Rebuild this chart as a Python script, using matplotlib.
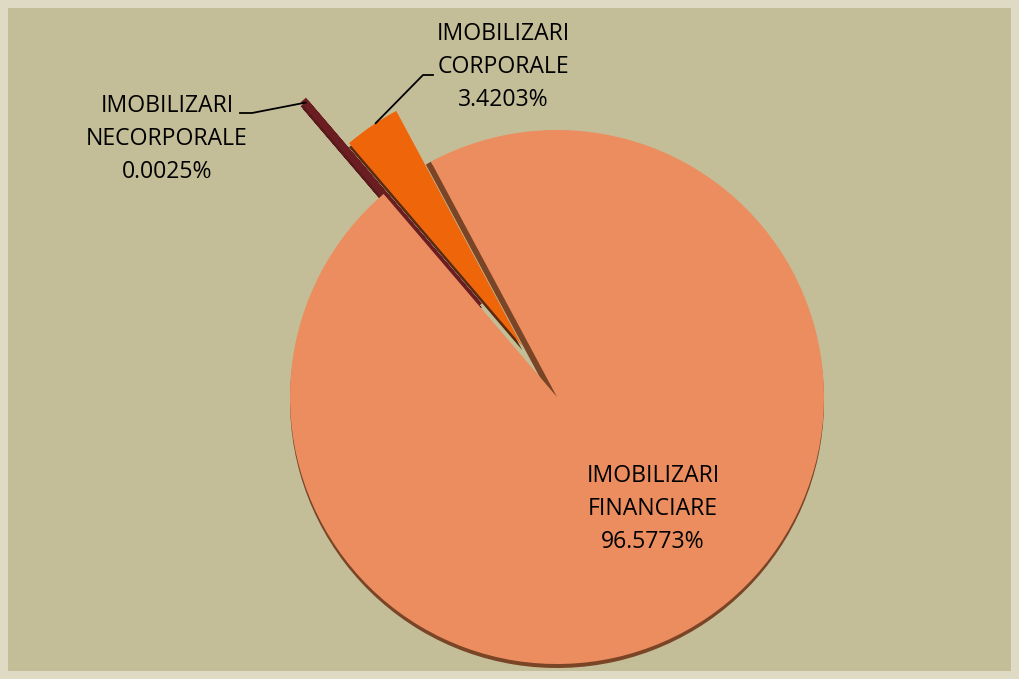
import numpy as np
import matplotlib
matplotlib.use('Agg')
import matplotlib.pyplot as plt
from matplotlib.patches import Polygon

plt.rcParams['font.family'] = ['Open Sans', 'DejaVu Sans']

labels = ['IMOBILIZARI\nNECORPORALE', 'IMOBILIZARI\nCORPORALE', 'IMOBILIZARI\nFINANCIARE']
shares = [0.0025, 3.4203, 96.5773]
colors = ['#6A1E22', '#EE650A', '#EB8D5F']
side_colors = ['#5A1A1C', '#5B2A0E', '#7A4426']
explode = [0.45, 0.23, 0.0]

W, H = 1019, 679
S = 267.0          # pie radius in pixels
CX, CY = 557, 397  # pie centre in pixels (from top-left)


def to_data(x, y):
    return ((x - CX) / S, (CY - y) / S)


fig = plt.figure(figsize=(W / 100, H / 100), dpi=100)
fig.patch.set_facecolor('#DEDAC4')
# inner panel
bg = fig.add_axes([8 / W, 8 / H, 1 - 16 / W, 1 - 16 / H])
bg.set_facecolor('#C4BE98')
bg.set_xticks([])
bg.set_yticks([])
for sp in bg.spines.values():
    sp.set_visible(False)

ax = fig.add_axes([0, 0, 1, 1])
ax.set_facecolor('none')

# side walls (fake 3d)
side, _ = ax.pie(shares, explode=explode, colors=side_colors, startangle=130.5,
                 counterclock=False, center=(0, -4 / S),
                 wedgeprops=dict(linewidth=0))
side[0].set_edgecolor(side_colors[0])
side[0].set_linewidth(5)

wedges, _ = ax.pie(shares, explode=explode, colors=colors, startangle=130.5,
                   counterclock=False, wedgeprops=dict(linewidth=0))
wedges[0].set_edgecolor(colors[0])
wedges[0].set_linewidth(5)

# wall along the cut edge of the big slice
big = wedges[2]
a = np.deg2rad(big.theta2)
c = np.array(big.center)
tip = c + big.r * np.array([np.cos(a), np.sin(a)])
dx, dy = -5 / S, -3 / S
ax.add_patch(Polygon([c, tip, tip + [dx, dy], c + [dx, dy]], closed=True,
                     facecolor=side_colors[2], edgecolor='none', zorder=0.5))
for w in wedges:
    w.set_zorder(1)

ax.set_xlim(-CX / S, (W - CX) / S)
ax.set_ylim(-(H - CY) / S, CY / S)
ax.set_aspect('auto')
ax.axis('off')

# labels
label_pos = [(167, 139), (503, 67), (653, 509)]
for lab, val, (px, py) in zip(labels, shares, label_pos):
    x, y = to_data(px, py)
    ax.text(x, y, f'{lab}\n{val:.4f}%', ha='center', va='center',
            multialignment='center', fontsize=16.6, linespacing=1.48,
            color='black', zorder=3)

# leader lines
w0 = wedges[0]
a0 = np.deg2rad((w0.theta1 + w0.theta2) / 2)
p0 = np.array(w0.center) + w0.r * np.array([np.cos(a0), np.sin(a0)])
k0 = to_data(252, 113)
e0 = to_data(240, 113)
ax.plot([p0[0], k0[0], e0[0]], [p0[1], k0[1], e0[1]], color='black', lw=1.3, zorder=3)

w1 = wedges[1]
a1 = np.deg2rad((w1.theta1 + w1.theta2) / 2 - 1)
p1 = np.array(w1.center) + w1.r * np.array([np.cos(a1), np.sin(a1)])
k1 = to_data(423, 75)
e1 = to_data(433, 75)
ax.plot([p1[0], k1[0], e1[0]], [p1[1], k1[1], e1[1]], color='black', lw=1.3, zorder=3)

fig.savefig('out.png', dpi=100, facecolor=fig.get_facecolor())
